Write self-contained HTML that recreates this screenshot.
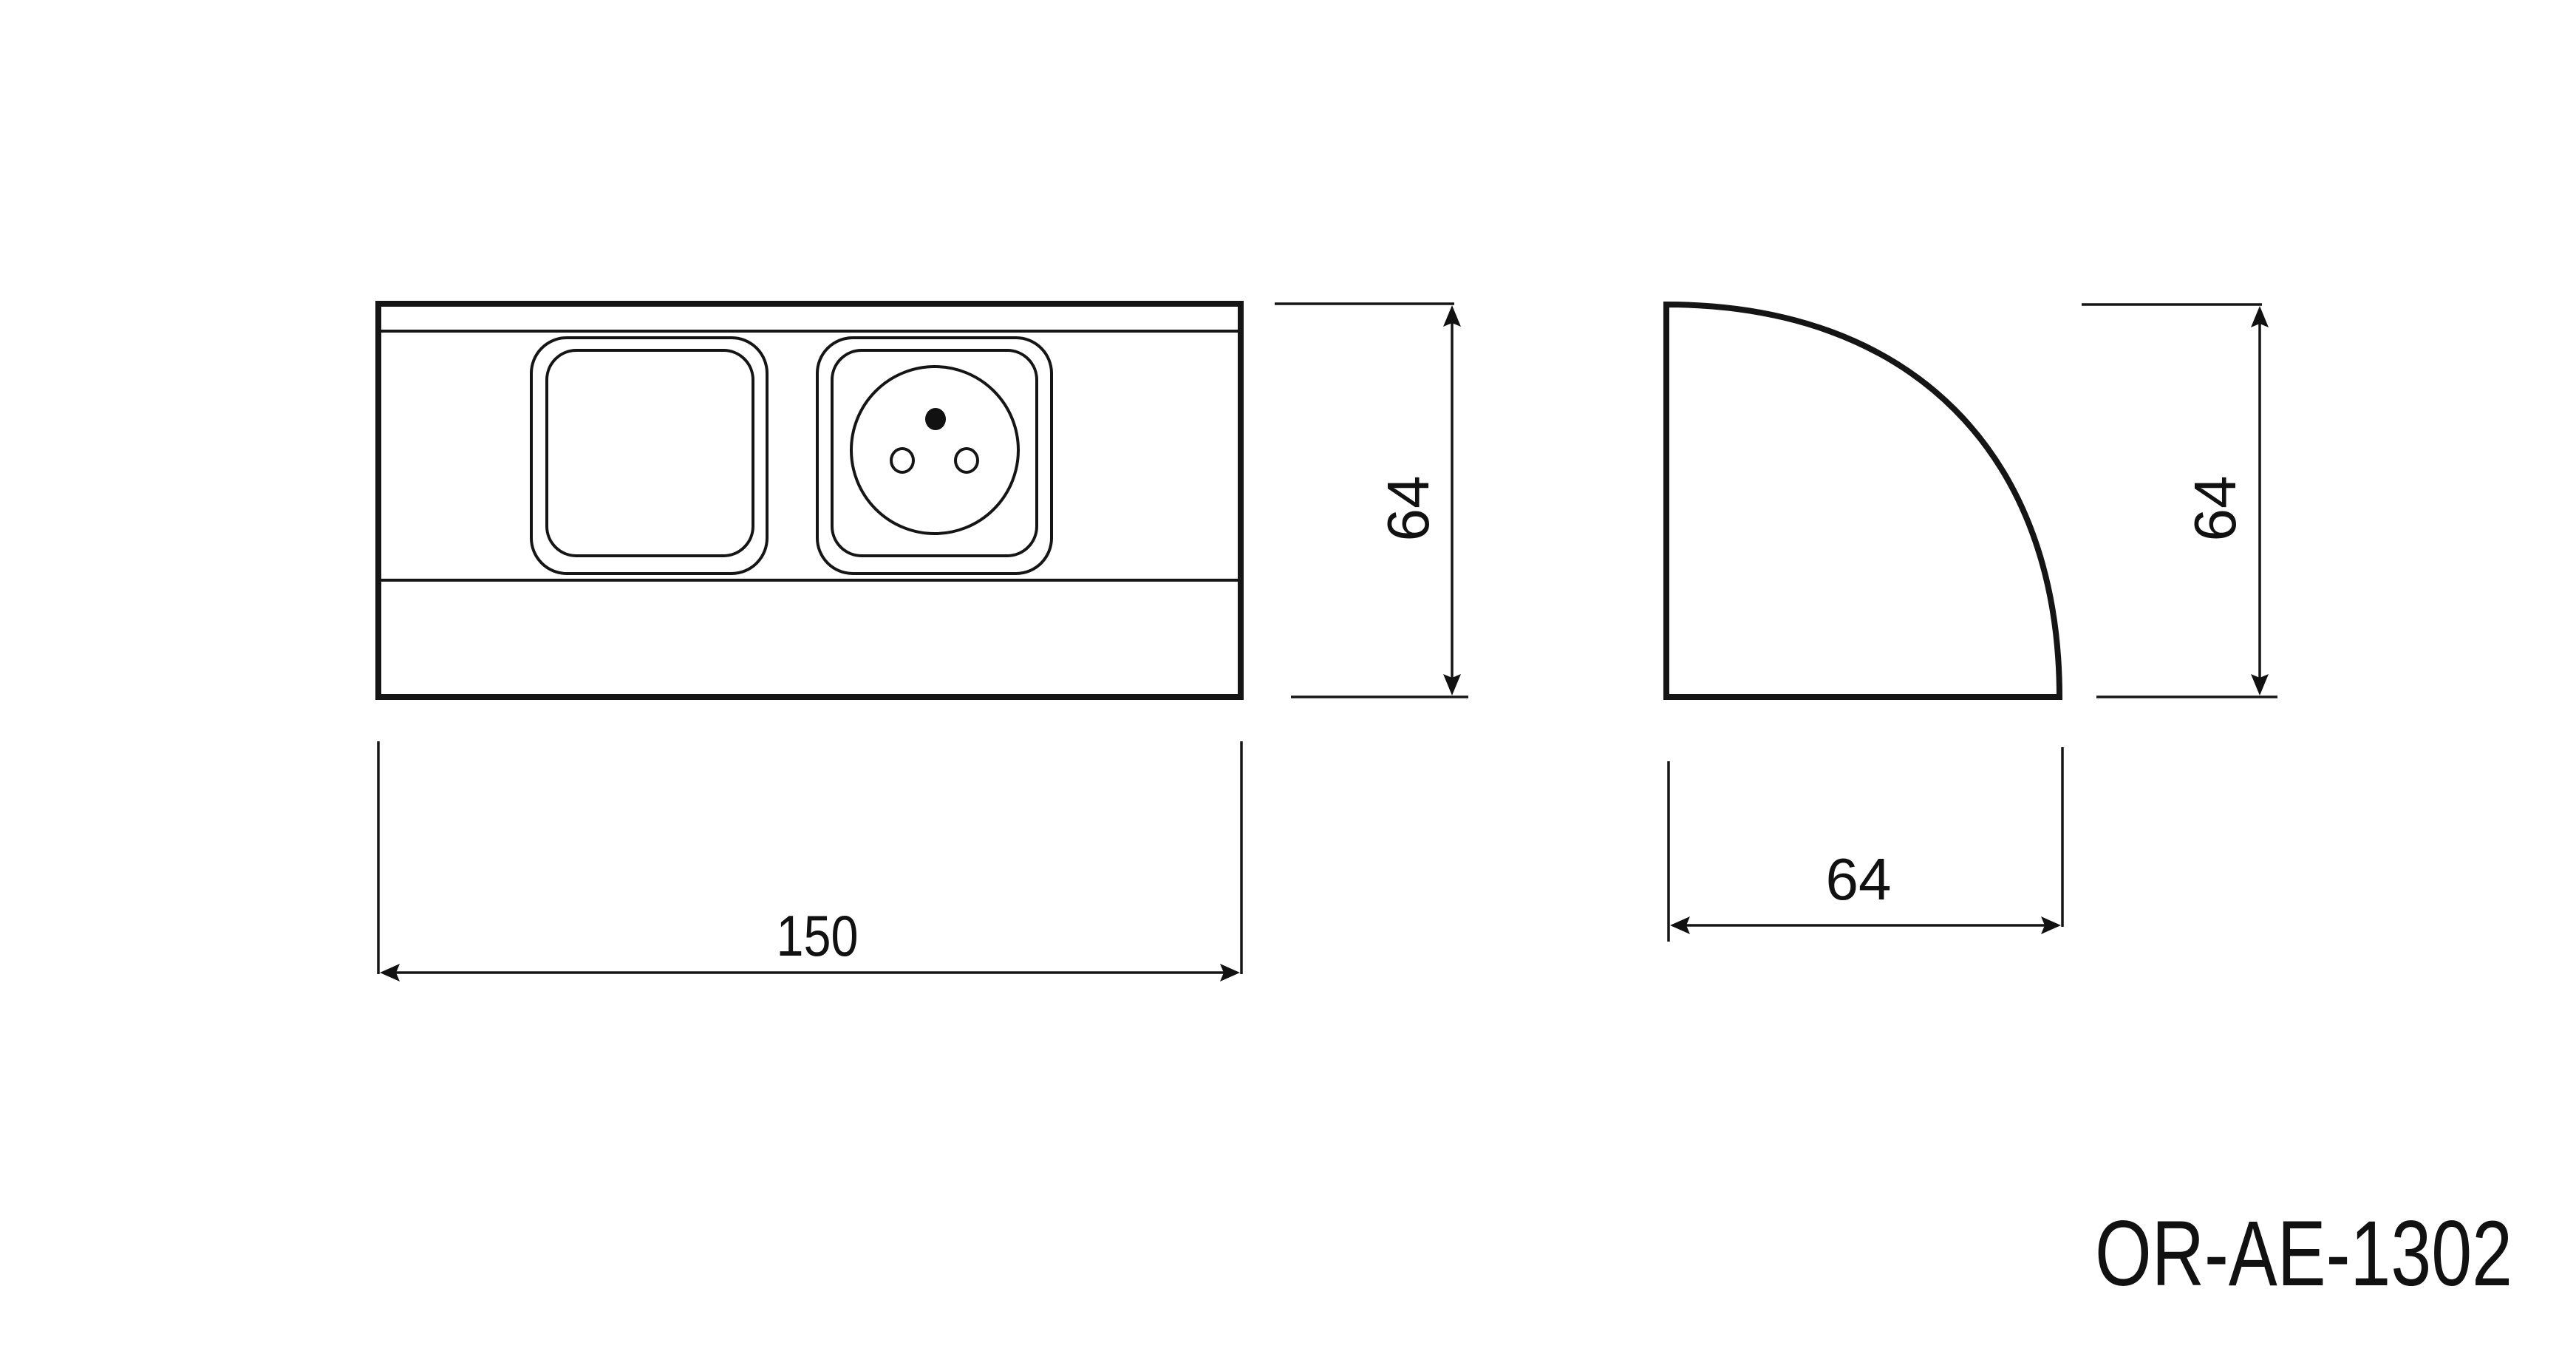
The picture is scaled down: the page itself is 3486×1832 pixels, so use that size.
<!DOCTYPE html>
<html><head><meta charset="utf-8"><style>
html,body{margin:0;padding:0;background:#fff}
svg{display:block}
text{font-family:"Liberation Sans",Arial,sans-serif;fill:#111}
</style></head><body>
<svg width="3486" height="1832" viewBox="0 0 3486 1832" xmlns="http://www.w3.org/2000/svg">
<rect width="3486" height="1832" fill="#fff"/>
<g fill="none" stroke="#151515">
  <rect x="512" y="411" width="1167" height="532" stroke-width="8"/>
  <line x1="512" y1="448" x2="1679" y2="448" stroke-width="4"/>
  <line x1="512" y1="785" x2="1679" y2="785" stroke-width="4"/>
  <rect x="719" y="457" width="319" height="319" rx="48" ry="48" stroke-width="4"/>
  <rect x="740" y="474" width="279" height="278" rx="40" ry="40" stroke-width="4"/>
  <rect x="1106" y="457" width="317" height="319" rx="48" ry="48" stroke-width="4"/>
  <rect x="1126" y="474" width="277" height="278" rx="40" ry="40" stroke-width="4"/>
  <circle cx="1265" cy="609" r="113" stroke-width="4"/>
  <ellipse cx="1221" cy="623" rx="15" ry="16" stroke-width="4"/>
  <ellipse cx="1308" cy="623" rx="15" ry="16" stroke-width="4"/>
  <path d="M2255 943 L2255 412 C2585 412 2787 613 2787 943 Z" stroke-width="8"/>
  <g stroke-width="3.5">
    <line x1="1725" y1="411" x2="1968" y2="411"/>
    <line x1="1747" y1="943" x2="1987" y2="943"/>
    <line x1="1965" y1="418" x2="1965" y2="936"/>
    <line x1="512" y1="1003" x2="512" y2="1318"/>
    <line x1="1680" y1="1003" x2="1680" y2="1318"/>
    <line x1="520" y1="1316" x2="1672" y2="1316"/>
    <line x1="2817" y1="412" x2="3061" y2="412"/>
    <line x1="2837" y1="943" x2="3082" y2="943"/>
    <line x1="3058" y1="419" x2="3058" y2="936"/>
    <line x1="2258" y1="1030" x2="2258" y2="1274"/>
    <line x1="2791" y1="1011" x2="2791" y2="1254"/>
    <line x1="2264" y1="1252" x2="2785" y2="1252"/>
  </g>
</g>
<g fill="#111">
  <ellipse cx="1266" cy="567" rx="14" ry="15"/>
  <path d="M1965 413 L1977 442 L1965 437 L1953 442 Z"/>
  <path d="M1965 941 L1977 912 L1965 917 L1953 912 Z"/>
  <path d="M514 1316 L541 1304 L536 1316 L541 1328 Z"/>
  <path d="M1678 1316 L1651 1304 L1656 1316 L1651 1328 Z"/>
  <path d="M3058 414 L3070 443 L3058 438 L3046 443 Z"/>
  <path d="M3058 941 L3070 912 L3058 917 L3046 912 Z"/>
  <path d="M2260 1252 L2287 1240 L2282 1252 L2287 1264 Z"/>
  <path d="M2789 1252 L2762 1240 L2767 1252 L2762 1264 Z"/>
</g>
<text x="1106" y="1293" font-size="78" text-anchor="middle" textLength="111" lengthAdjust="spacingAndGlyphs">150</text>
<text x="2515" y="1217" font-size="80" text-anchor="middle">64</text>
<text transform="translate(1933 688) rotate(-90)" font-size="80" text-anchor="middle">64</text>
<text transform="translate(3025 688) rotate(-90)" font-size="80" text-anchor="middle">64</text>
<text x="2835" y="1739" font-size="125" textLength="565" lengthAdjust="spacingAndGlyphs">OR-AE-1302</text>
</svg>
</body></html>
